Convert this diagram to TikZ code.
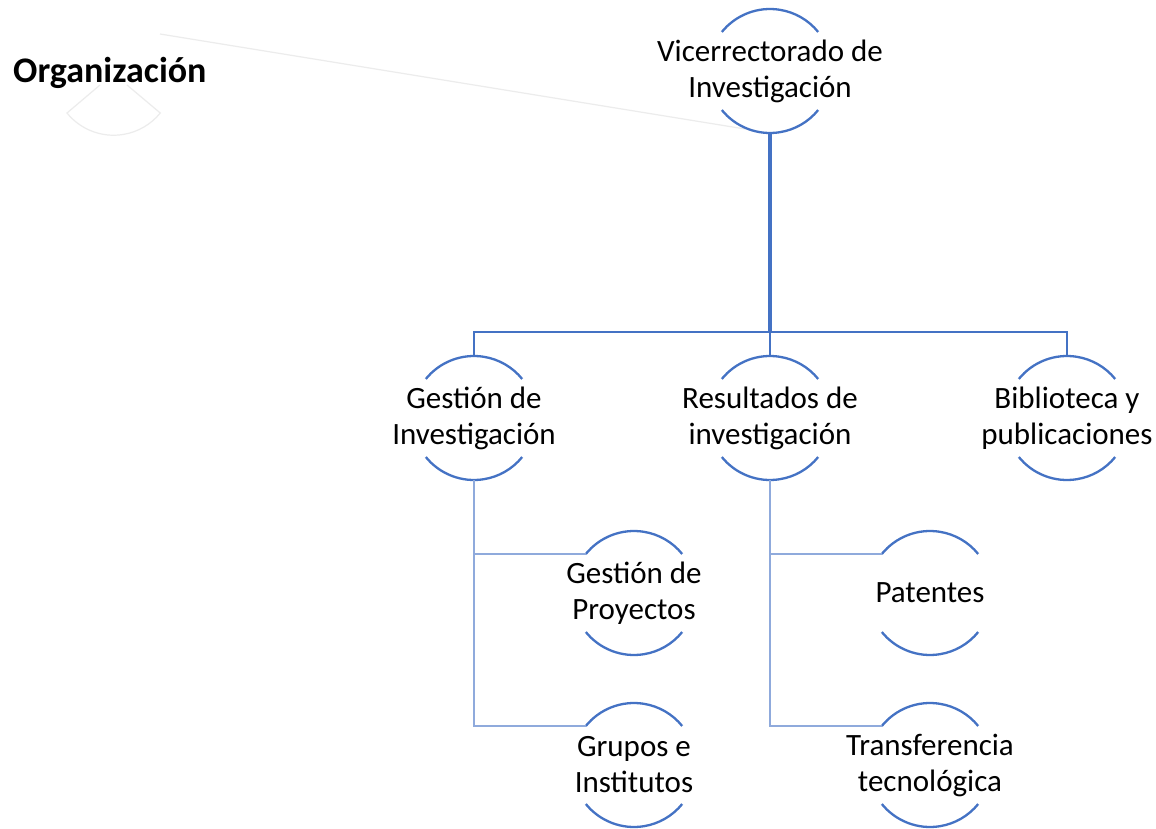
\documentclass[tikz,border=0pt]{standalone}
\usepackage{fontspec}
\setmainfont{Carlito}
\definecolor{mainblue}{RGB}{68,114,196}
\definecolor{lightblue}{RGB}{143,170,220}
\definecolor{faint}{RGB}{236,236,236}
\tikzset{
  cshape/.style={circle, minimum size=124pt, inner sep=0pt, outer sep=0pt, draw=none},
  ctext/.style={align=center, inner sep=0pt, font=\fontsize{31}{36}\selectfont},
  arcline/.style={draw=mainblue, line width=2.3pt},
  conn/.style={draw=mainblue, line width=2.2pt},
  mainconn/.style={draw=mainblue, line width=3.6pt},
  subconn/.style={draw=lightblue, line width=2.6pt},
  faintline/.style={draw=faint, line width=1.2pt}
}
\newcommand{\cnode}[4]{%
  \node[cshape] (#1) at (#2,#3) {};
  \node[ctext] (#1-t) at (#1.center) {#4};
  \draw[arcline] (#1.141) arc[start angle=141,end angle=39,radius=62pt];
  \draw[arcline] (#1.219) arc[start angle=219,end angle=321,radius=62pt];
}
\begin{document}
\begin{tikzpicture}[x=1pt,y=-1pt]
\useasboundingbox[fill=white] (0,0) rectangle (1156,829);
% title
\node[anchor=west, inner sep=0pt, font=\bfseries\fontsize{36}{40}\selectfont] (title) at (13,73) {Organización};
\coordinate (fa) at (160,34);
\coordinate (fb) at (745,129);
\draw[faintline] (fa) -- (fb);
\draw[faintline] (100,85) -- (67,113) arc[start angle=219,end angle=321,radius=60pt] -- (127,85);
% nodes
\cnode{top}{770}{71}{Vicerrectorado de\\Investigación}
\cnode{gi}{474}{418}{Gestión de\\Investigación}
\cnode{ri}{770}{418}{Resultados de\\investigación}
\cnode{bi}{1067}{418}{Biblioteca y\\publicaciones}
\cnode{gp}{634}{593}{Gestión de\\Proyectos}
\cnode{gr}{634}{765}{Grupos e\\Institutos}
\cnode{pa}{930}{593}{Patentes}
\cnode{tt}{930}{765}{Transferencia\\tecnológica}
% connectors
\coordinate (bus) at (770,332);
\draw[mainconn] (top.south) -- (top.south |- bus);
\draw[conn] (gi.north) -- (gi.north |- bus) -- (bi.north |- bus) -- (bi.north);
\draw[conn] (ri.north |- bus) -- (ri.north);
\draw[subconn] (gi.south) |- (gp.141);
\draw[subconn] (gi.south) |- (gr.141);
\draw[subconn] (ri.south) |- (pa.141);
\draw[subconn] (ri.south) |- (tt.141);
\end{tikzpicture}
\end{document}
